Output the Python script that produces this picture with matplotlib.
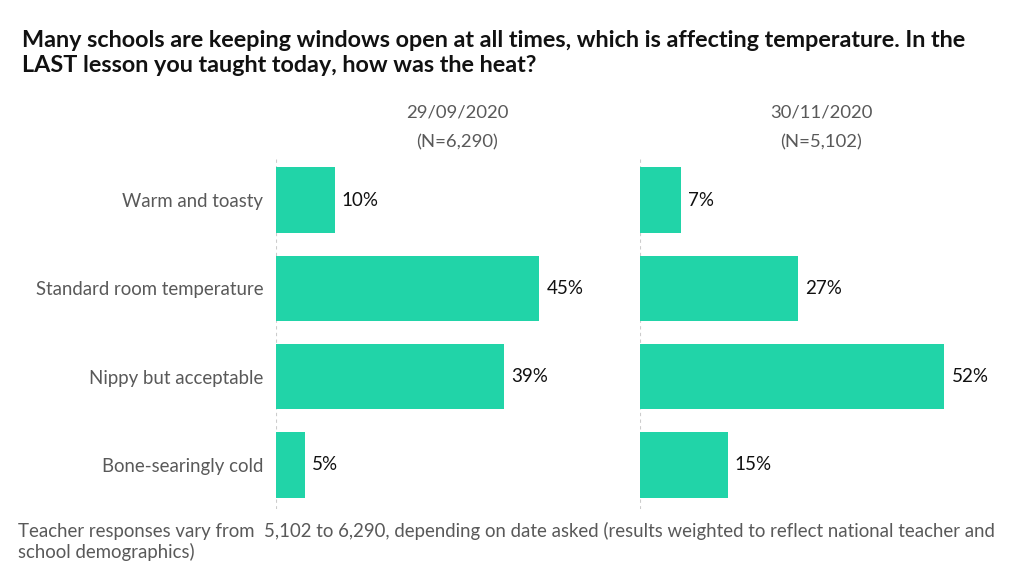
import numpy as np
import matplotlib.pyplot as plt

plt.rcParams['font.family'] = ['Lato', 'DejaVu Sans']

categories = ['Warm and toasty', 'Standard room temperature', 'Nippy but acceptable', 'Bone-searingly cold']
dates = ['29/09/2020', '30/11/2020']
sizes = ['(N=6,290)', '(N=5,102)']
sep_vals = [10, 45, 39, 5]
nov_vals = [7, 27, 52, 15]

bar_color = '#21D4A8'
grey = '#595959'

fig = plt.figure(figsize=(10.24, 5.85), dpi=100)

fig.text(0.0215, 1 - 30 / 585, 'Many schools are keeping windows open at all times, which is affecting temperature. In the\nLAST lesson you taught today, how was the heat?',
         fontsize=16.8, fontweight='bold', color='#111111', va='top', ha='left', linespacing=1.25)

bottom = 1 - 509 / 585
height = 353 / 585
lefts = [276 / 1024, 640 / 1024]
width = 322 / 1024

y = np.arange(len(categories))
for i, vals in enumerate([sep_vals, nov_vals]):
    ax = fig.add_axes([lefts[i], bottom, width, height])
    ax.barh(y, vals, height=0.74, color=bar_color)
    ax.set_xlim(0, 55)
    ax.set_ylim(3.5, -0.5)
    ax.axvline(0, color='#cccccc', lw=0.8, ls=(0, (3, 3)), zorder=0)
    for yy, v in zip(y, vals):
        ax.text(v + 1.2, yy, f'{v}%', va='center', ha='left', fontsize=13.5, color='#111111')
    for s in ax.spines.values():
        s.set_visible(False)
    ax.set_xticks([])
    if i == 0:
        ax.set_yticks(y)
        ax.set_yticklabels(categories, fontsize=13.4, color=grey)
        ax.tick_params(axis='y', length=0, pad=9)
    else:
        ax.set_yticks([])
    cx = [457, 821][i] / 1024
    fig.text(cx, 1 - 113 / 585, dates[i], ha='center', va='center', fontsize=13.3, color=grey)
    fig.text(cx, 1 - 142 / 585, sizes[i], ha='center', va='center', fontsize=13.3, color=grey)

fig.text(0.018, 1 - 522 / 585, 'Teacher responses vary from  5,102 to 6,290, depending on date asked (results weighted to reflect national teacher and\nschool demographics)',
         fontsize=13.4, color=grey, va='top', ha='left', linespacing=1.2)

fig.savefig('out.png', dpi=100, facecolor='white')
